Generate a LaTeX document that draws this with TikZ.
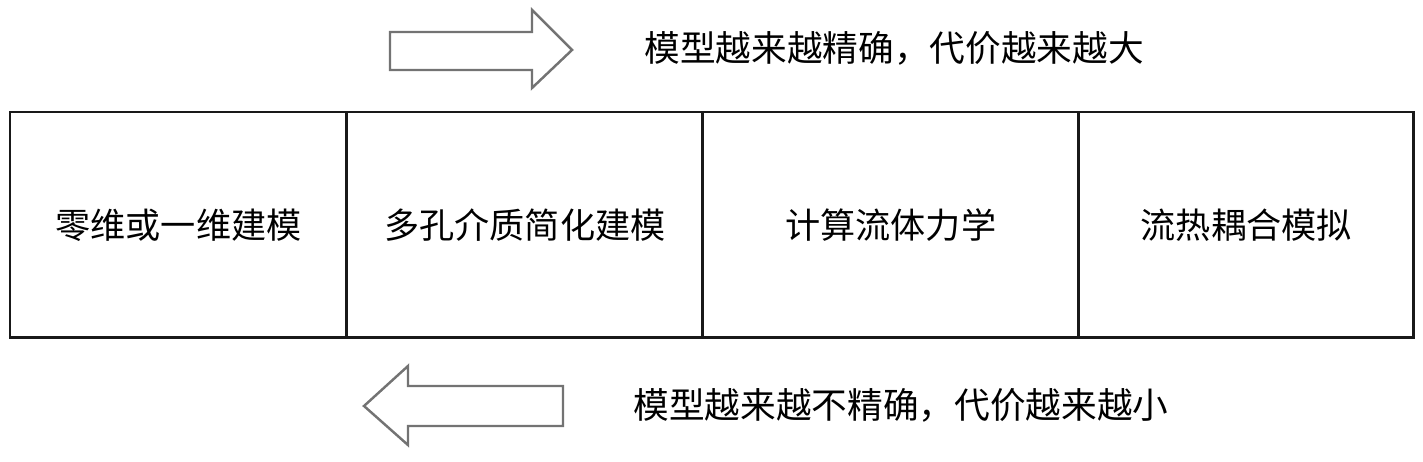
\documentclass[tikz,border=0pt]{standalone}
\usepackage{fontspec}
\setmainfont{Noto Sans CJK SC}
\usetikzlibrary{positioning}

\tikzset{
  celda/.style={draw=black!90, line width=1.7pt, outer sep=0pt, inner sep=0pt,
    minimum height=4.52cm, font=\fontsize{20}{24}\selectfont},
  flecha/.style={draw=black!55, line width=1.4pt, line join=miter},
  nota/.style={font=\fontsize{20.3}{24}\selectfont, inner sep=0pt}
}

\begin{document}
\begin{tikzpicture}[x=0.02cm, y=-0.02cm]
\useasboundingbox (0,0) rectangle (1423,462);

% Cajas
\node [celda, minimum width=6.74cm, anchor=north west] (cero) at (10,112) {零维或一维建模};
\node [celda, minimum width=7.12cm, right=0pt of cero] (poroso) {多孔介质简化建模};
\node [celda, minimum width=7.52cm, right=0pt of poroso] (cfd) {计算流体力学};
\node [celda, minimum width=6.70cm, right=0pt of cfd] (acople) {流热耦合模拟};

% Flecha superior
\draw [flecha] (390,32) -- (532,32) -- (532,10) -- (572,50) -- (532,88) -- (532,70) -- (390,70) -- cycle;
\node [nota] (arriba) at (894,48) {模型越来越精确，代价越来越大};

% Flecha inferior
\draw [flecha] (563,386) -- (408,386) -- (408,366) -- (364,406) -- (408,445) -- (408,426) -- (563,426) -- cycle;
\node [nota] (abajo) at (901,405) {模型越来越不精确，代价越来越小};
\end{tikzpicture}
\end{document}
